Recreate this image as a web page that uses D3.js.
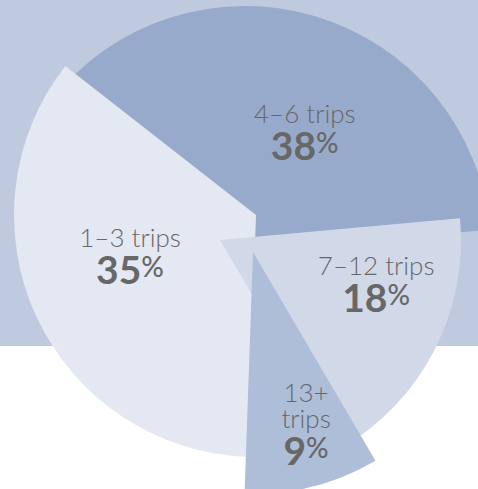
<!DOCTYPE html>
<html><head><meta charset="utf-8">
<script src="https://cdn.jsdelivr.net/npm/d3@7"></script>
<style>html,body{margin:0;padding:0;background:#fff}svg{display:block}</style>
</head><body>
<svg id="chart" width="478" height="489"></svg>
<script>
// ---- data ----
const categories = ["1–3 trips", "4–6 trips", "7–12 trips", "13+ trips"];
const values = [35, 38, 18, 9];
const labelLines = [["1–3 trips"], ["4–6 trips"], ["7–12 trips"], ["13+", "trips"]];

// ---- layout / style ----
const W = 478, H = 489;
const deg = Math.PI / 180;
const C = [245, 240];
const style = {
  "1–3 trips":  {fill: "#e4e8f2", z: 1, off: [11, -25], r: 242, lr: 130, la: 10.7},
  "4–6 trips":  {fill: "#97aacb", z: 0, off: [0, 12],   r: 246, lr: 142, la: 8.5},
  "7–12 trips": {fill: "#d1d9e9", z: 2, off: [-25, 0],  r: 241, lr: 160, la: -14.6},
  "13+ trips":  {fill: "#aebdd8", z: 3, off: [8, 12],   r: 242, lr: 159, la: -5.3}
};
const textColor = "#676767";
const font = "Lato, 'Open Sans', sans-serif";

const svg = d3.select("#chart");
svg.append("rect").attr("x", 0).attr("y", 0).attr("width", W).attr("height", 346).attr("fill", "#bfcadf");

const startDeg = 182;
const pie = d3.pie().sort(null).value(d => d.value)
  .startAngle(startDeg * deg).endAngle((startDeg + 360) * deg);
const arcs = pie(categories.map((c, i) => ({category: c, value: values[i], lines: labelLines[i]})));

const ordered = arcs.slice().sort((a, b) => style[a.data.category].z - style[b.data.category].z);

const g = svg.append("g");
g.selectAll("path").data(ordered).join("path")
  .attr("transform", d => {
    const s = style[d.data.category];
    return `translate(${C[0] + s.off[0]},${C[1] + s.off[1]})`;
  })
  .attr("d", d => d3.arc().innerRadius(0).outerRadius(style[d.data.category].r)(d))
  .attr("fill", d => style[d.data.category].fill);

// ---- labels (one text element per slice) ----
const lab = svg.append("g").attr("font-family", font).attr("fill", textColor).attr("text-anchor", "middle");
arcs.forEach(d => {
  const s = style[d.data.category];
  const bis = (d.startAngle + d.endAngle) / 2 + s.la * deg;
  const x = C[0] + s.off[0] + s.lr * Math.sin(bis);
  const y = C[1] + s.off[1] - s.lr * Math.cos(bis);
  const t = lab.append("text").attr("x", x).attr("y", y);
  d.data.lines.forEach((ln, i) => {
    t.append("tspan").attr("x", x).attr("dy", i === 0 ? 0 : 26)
      .attr("font-size", 26).attr("font-weight", 300).text(ln);
  });
  t.append("tspan").attr("x", x).attr("dy", 37)
    .attr("font-size", 39).attr("font-weight", 700).text(d.data.value);
  t.append("tspan").attr("font-size", 28).attr("font-weight", 500).attr("dy", -7).text("%");
});
</script>
</body></html>
